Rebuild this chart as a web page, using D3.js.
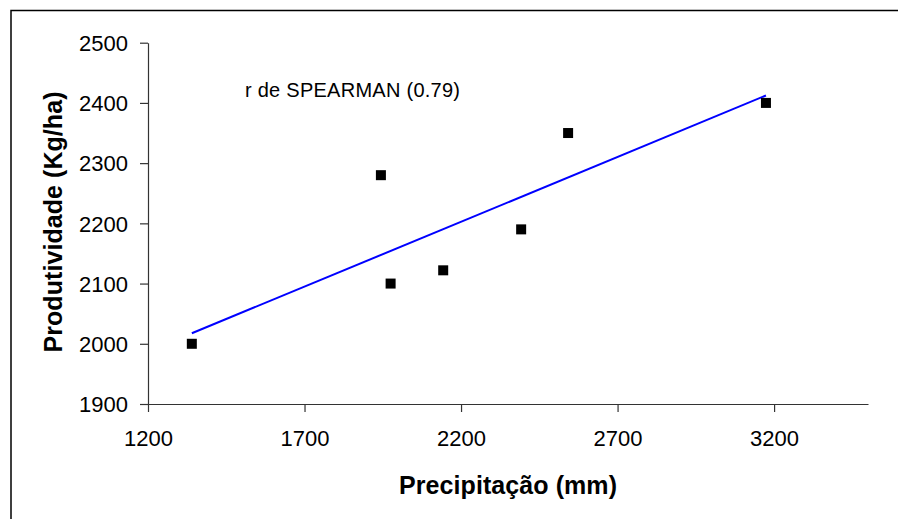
<!DOCTYPE html>
<html>
<head>
<meta charset="utf-8">
<script src="https://cdn.jsdelivr.net/npm/d3@7"></script>
<style>
  body { margin: 0; background: #fff; }
  svg { display: block; font-family: "Liberation Sans", Arial, sans-serif; }
</style>
</head>
<body>
<div class="canvas"></div>
<script>
// data
const precipitacao = [1340, 1944, 1975, 2143, 2392, 2542, 3174];
const produtividade = [2000, 2280, 2100, 2122, 2190, 2350, 2400];
const xTicks = [1200, 1700, 2200, 2700, 3200];
const yTicks = [1900, 2000, 2100, 2200, 2300, 2400, 2500];

const W = 898, H = 519;
const plot = {left: 148, right: 868, top: 42.7, bottom: 404};

const svg = d3.select(".canvas")
  .append("svg")
    .attr("width", W)
    .attr("height", H);

// outer frame (only top and left visible)
svg.append("path")
    .attr("d", `M11,${H} V10.5 H${W}`)
    .attr("fill", "none")
    .attr("stroke", "#000")
    .attr("stroke-width", 1.5);

const x = d3.scaleLinear().domain([1200, 3500]).range([plot.left, plot.right]);
const y = d3.scaleLinear().domain([1900, 2500]).range([plot.bottom, plot.top]);

// X axis
const gx = svg.append("g")
    .attr("transform", `translate(0,${plot.bottom})`)
    .call(d3.axisBottom(x).tickValues(xTicks).tickFormat(d3.format("d"))
      .tickSize(8).tickSizeOuter(0).tickPadding(18));
// Y axis
const gy = svg.append("g")
    .attr("transform", `translate(${plot.left},0)`)
    .call(d3.axisLeft(y).tickValues(yTicks).tickFormat(d3.format("d"))
      .tickSize(8).tickSizeOuter(0).tickPadding(12));

[gx, gy].forEach(g => {
  g.selectAll("path, line").attr("stroke", "#333").attr("stroke-width", 1.2);
  g.selectAll("text")
    .attr("fill", "#000")
    .style("font-size", "22px")
    .style("font-family", "'Liberation Sans', Arial, sans-serif");
});
gy.selectAll("text").attr("dy", "0.35em");

// trend line (least squares fit of the points)
const mx = d3.mean(precipitacao), my = d3.mean(produtividade);
const slope = d3.sum(precipitacao, (v, i) => (v - mx) * (produtividade[i] - my)) /
              d3.sum(precipitacao, v => (v - mx) * (v - mx));
const x0 = d3.min(precipitacao), x1 = d3.max(precipitacao);
svg.append("line")
    .attr("x1", x(x0)).attr("y1", y(my + slope * (x0 - mx)))
    .attr("x2", x(x1)).attr("y2", y(my + slope * (x1 - mx)))
    .attr("stroke", "#0000ff")
    .attr("stroke-width", 2);

// points
const size = 10;
svg.selectAll("rect.pt")
    .data(precipitacao.map((v, i) => [v, produtividade[i]]))
    .join("rect")
      .attr("class", "pt")
      .attr("x", d => x(d[0]) - size / 2)
      .attr("y", d => y(d[1]) - size / 2)
      .attr("width", size)
      .attr("height", size)
      .attr("fill", "#000");

// annotation
svg.append("text")
    .attr("x", 245)
    .attr("y", 96.5)
    .attr("textLength", 215)
    .style("font-size", "20px")
    .text("r de SPEARMAN (0.79)");

// x-axis label
svg.append("text")
    .attr("text-anchor", "middle")
    .attr("x", 508)
    .attr("y", 494)
    .attr("textLength", 218)
    .style("font-size", "25px")
    .style("font-weight", "bold")
    .text("Precipitação (mm)");

// y-axis label
svg.append("text")
    .attr("text-anchor", "middle")
    .attr("transform", "translate(62,222) rotate(-90)")
    .attr("textLength", 261)
    .style("font-size", "25px")
    .style("font-weight", "bold")
    .text("Produtividade (Kg/ha)");
</script>
</body>
</html>
